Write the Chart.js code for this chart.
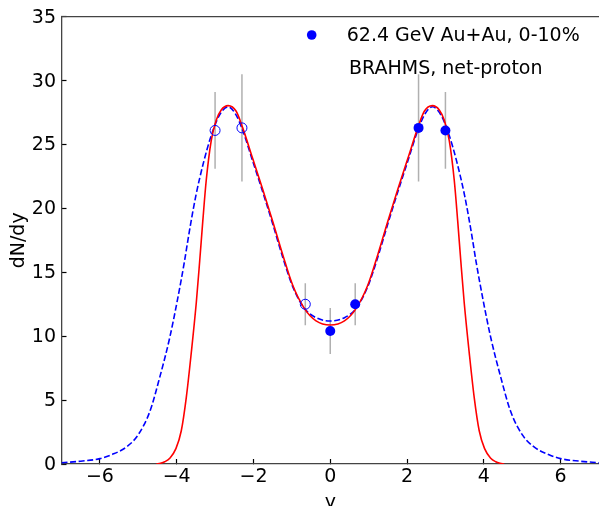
<!DOCTYPE html>
<html><head><meta charset="utf-8">
<script src="https://cdn.jsdelivr.net/npm/chart.js@4.4.1/dist/chart.umd.min.js"></script>
<style>html,body{margin:0;padding:0;background:#fff;overflow:hidden}</style>
</head><body>
<canvas id="c" width="599" height="506"></canvas>
<script>
// ---- data ----
const xTicks = [-6, -4, -2, 0, 2, 4, 6];
const yTicks = [0, 5, 10, 15, 20, 25, 30, 35];

const filledX = [0, 0.65, 2.3, 3.0];
const filledY = [10.4, 12.5, 26.3, 26.1];
const filledErr = [1.8, 1.65, 4.2, 3.0];

const openX = [-0.65, -2.3, -3.0];
const openY = [12.5, 26.3, 26.1];
const openErr = [1.65, 4.2, 3.0];

const redX = [-4.53, -4.42, -4.31, -4.18, -4.02, -3.88, -3.75, -3.62, -3.49, -3.40, -3.32, -3.23, -3.10, -2.97, -2.84, -2.66, -2.45, -2.28, -2.02, -1.76, -1.50, -1.24, -0.98, -0.68, -0.37, 0,
              0.37, 0.68, 0.98, 1.24, 1.50, 1.76, 2.02, 2.28, 2.45, 2.66, 2.84, 2.97, 3.10, 3.23, 3.32, 3.40, 3.49, 3.62, 3.75, 3.88, 4.02, 4.18, 4.31, 4.42, 4.53];
const redY = [0, 0.06, 0.18, 0.45, 1.2, 2.6, 5.2, 8.7, 12.6, 15.9, 19.0, 22.2, 25.3, 26.9, 27.7, 28.04, 27.6, 26.3, 23.9, 21.5, 19.0, 16.4, 14.0, 12.2, 11.2, 10.88,
              11.2, 12.2, 14.0, 16.4, 19.0, 21.5, 23.9, 26.3, 27.6, 28.04, 27.7, 26.9, 25.3, 22.2, 19.0, 15.9, 12.6, 8.7, 5.2, 2.6, 1.2, 0.45, 0.18, 0.06, 0];

const blueX = [-7, -6.5, -6.0, -5.7, -5.3, -5.0, -4.7, -4.44, -4.18, -3.97, -3.80, -3.67, -3.50, -3.30, -3.10, -2.885, -2.66, -2.45, -2.28, -2.02, -1.76, -1.50, -1.24, -0.98, -0.68, -0.37, 0,
               0.37, 0.68, 0.98, 1.24, 1.50, 1.76, 2.02, 2.28, 2.45, 2.66, 2.885, 3.10, 3.30, 3.50, 3.67, 3.80, 3.97, 4.18, 4.44, 4.7, 5.0, 5.3, 5.7, 6.0, 6.5, 7];
const blueY = [0.1, 0.22, 0.42, 0.72, 1.35, 2.3, 4.1, 6.8, 9.9, 13.0, 15.8, 18.2, 21.0, 23.6, 25.7, 27.3, 27.95, 27.3, 26.1, 23.7, 21.3, 18.8, 16.2, 13.9, 12.2, 11.45, 11.19,
               11.45, 12.2, 13.9, 16.2, 18.8, 21.3, 23.7, 26.1, 27.3, 27.95, 27.3, 25.7, 23.6, 21.0, 18.2, 15.8, 13.0, 9.9, 6.8, 4.1, 2.3, 1.35, 0.72, 0.42, 0.22, 0.1];

const legendLabel = '62.4 GeV Au+Au, 0-10%';
const noteText = 'BRAHMS, net-proton';
const xTitle = 'y';
const yTitle = 'dN/dy';

// ---- build datasets ----
const FONT = "'DejaVu Sans', sans-serif";
const BLUE = '#0000ff', RED = '#ff0000', ERR = '#b0b0b0';
const toPts = (xs, ys) => xs.map((x, i) => ({x: x, y: ys[i]}));

const datasets = [];
function addErrors(xs, ys, es) {
  xs.forEach((x, i) => {
    datasets.push({
      data: [{x: x, y: ys[i] - es[i]}, {x: x, y: ys[i] + es[i]}],
      showLine: true, borderColor: ERR, borderWidth: 1.5, pointRadius: 0, order: 5
    });
  });
}
addErrors(openX, openY, openErr);
addErrors(filledX, filledY, filledErr);

datasets.push({
  data: toPts(blueX, blueY), showLine: true, borderColor: BLUE, borderWidth: 1.6,
  borderDash: [6, 2.6], pointRadius: 0, cubicInterpolationMode: 'monotone', order: 2
});
datasets.push({
  data: toPts(redX, redY), showLine: true, borderColor: RED, borderWidth: 1.6,
  pointRadius: 0, cubicInterpolationMode: 'monotone', order: 1
});
datasets.push({
  data: toPts(openX, openY), showLine: false, pointRadius: 5, pointBorderWidth: 1,
  pointBorderColor: BLUE, pointBackgroundColor: 'rgba(0,0,0,0)', order: 0
});
datasets.push({
  data: toPts(filledX, filledY), showLine: false, pointRadius: 5, pointBorderWidth: 0,
  pointBorderColor: BLUE, pointBackgroundColor: BLUE, order: 0
});

const fmt = v => (v < 0 ? '\u2212' + Math.abs(v) : String(v));
const zeroPad = s => { s.paddingTop = 0; s.paddingBottom = 0; s.paddingLeft = 0; s.paddingRight = 0; };

const framePlugin = {
  id: 'frame',
  afterDraw(chart) {
    const ctx = chart.ctx, a = chart.chartArea;
    ctx.save();
    ctx.strokeStyle = '#444';
    ctx.lineWidth = 1.3;
    ctx.beginPath();
    ctx.moveTo(a.left, a.top);
    ctx.lineTo(a.right, a.top);
    ctx.stroke();
    // legend + annotation
    ctx.fillStyle = BLUE;
    ctx.beginPath();
    ctx.arc(311.7, 35, 4.8, 0, Math.PI * 2);
    ctx.fill();
    ctx.fillStyle = '#000';
    ctx.font = '19px ' + FONT;
    ctx.textBaseline = 'alphabetic';
    ctx.textAlign = 'left';
    ctx.fillText(legendLabel, 346.7, 40.6);
    ctx.fillText(noteText, 349, 74);
    ctx.restore();
  }
};

new Chart(document.getElementById('c'), {
  type: 'scatter',
  data: {datasets: datasets},
  plugins: [framePlugin],
  options: {
    responsive: false,
    animation: false,
    events: [],
    layout: {autoPadding: false, padding: {top: 16.7, right: 0, bottom: 0, left: 0}},
    plugins: {legend: {display: false}, tooltip: {enabled: false}},
    scales: {
      x: {
        type: 'linear', min: -7, max: 7,
        afterBuildTicks: s => { s.ticks = xTicks.map(v => ({value: v})); },
        afterFit: s => { s.height = 42; zeroPad(s); },
        grid: {display: true, drawOnChartArea: false, drawTicks: true, tickLength: -5, tickColor: '#000', tickWidth: 1.2},
        border: {display: true, color: '#444', width: 1.3},
        ticks: {color: '#000', font: {family: FONT, size: 19}, padding: 6.7, maxRotation: 0, autoSkip: false, callback: v => fmt(v)},
        title: {display: true, text: xTitle, color: '#000', font: {family: FONT, size: 19}, padding: {top: 0, bottom: -8.5}}
      },
      y: {
        type: 'linear', min: 0, max: 35,
        afterBuildTicks: s => { s.ticks = yTicks.map(v => ({value: v})); },
        afterFit: s => { s.width = 61.5; zeroPad(s); },
        grid: {display: true, drawOnChartArea: false, drawTicks: true, tickLength: -5, tickColor: '#000', tickWidth: 1.2},
        border: {display: true, color: '#444', width: 1.3},
        ticks: {color: '#000', font: {family: FONT, size: 19}, padding: 10.5, labelOffset: 1, autoSkip: false, callback: v => fmt(v)},
        title: {display: true, text: yTitle, color: '#000', font: {family: FONT, size: 19}, padding: {top: 7.5, bottom: 0}}
      }
    }
  }
});
</script>
</body></html>
